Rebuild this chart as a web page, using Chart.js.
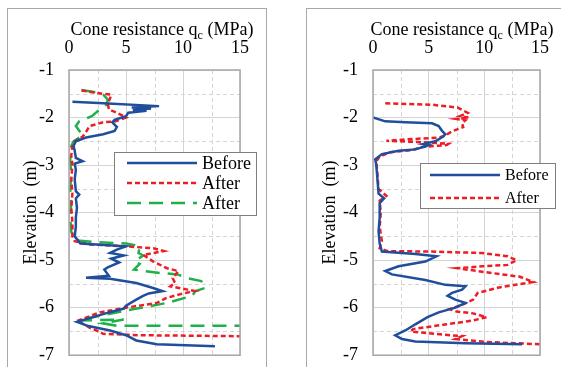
<!DOCTYPE html>
<html>
<head>
<meta charset="utf-8">
<script src="https://cdn.jsdelivr.net/npm/chart.js@4.4.1/dist/chart.umd.min.js"></script>
<style>
  html, body { margin: 0; padding: 0; background: #fff; overflow: hidden; }
  body { width: 561px; height: 367px; position: relative; }
  .panel { position: absolute; top: 8px; border: 1px solid #a8a8a8; background: #fff; }
  #p1 { left: 7px; width: 258px; height: 372px; }
  #p2 { left: 306px; width: 270px; height: 372px; }
  canvas { display: block; }
</style>
</head>
<body>
<div class="panel" id="p1"><canvas id="left" width="258" height="372"></canvas></div>
<div class="panel" id="p2"><canvas id="right" width="260" height="372"></canvas></div>
<script>
// axis ticks
const qcTicks = [0, 5, 10, 15];
const elevTicks = [-7, -6, -5, -4, -3, -2, -1];

// left panel: elevation (m) / cone resistance (MPa)
const leftBeforeElev = [-1.67, -1.70, -1.76, -1.79, -1.81, -1.84, -1.86, -1.90, -1.97, -2.05, -2.10, -2.20, -2.28, -2.35, -2.42, -2.50, -2.60, -2.70, -2.85, -2.92, -2.97, -3.10, -3.30, -3.55, -3.62, -3.70, -3.90, -4.10, -4.30, -4.50, -4.65, -4.71, -4.78, -4.85, -4.90, -4.97, -5.05, -5.15, -5.20, -5.33, -5.37, -5.39, -5.48, -5.58, -5.65, -5.70, -5.75, -5.83, -5.96, -6.02, -6.10, -6.20, -6.30, -6.35, -6.38, -6.48, -6.58, -6.69, -6.77, -6.81];
const leftBeforeQc = [0.3, 3.0, 7.9, 5.5, 7.2, 5.6, 6.8, 5.2, 5.0, 4.0, 3.8, 4.2, 4.0, 3.0, 1.5, 0.6, 0.4, 0.5, 0.6, 1.2, 0.5, 0.6, 0.5, 0.6, 0.9, 0.6, 0.7, 0.6, 0.6, 0.5, 1.0, 5.0, 4.2, 3.6, 4.8, 3.7, 4.4, 3.4, 3.1, 3.5, 1.5, 3.6, 5.9, 7.3, 8.2, 7.0, 6.5, 5.9, 5.0, 4.8, 3.5, 2.1, 0.7, 1.3, 1.6, 3.6, 5.0, 5.9, 7.7, 12.8];

const leftAfterElev = [-1.43, -1.50, -1.52, -1.60, -1.70, -1.83, -1.90, -2.00, -2.08, -2.10, -2.18, -2.30, -2.40, -2.50, -2.60, -2.80, -3.00, -3.30, -3.60, -3.90, -4.20, -4.50, -4.60, -4.67, -4.71, -4.75, -4.81, -4.89, -5.03, -5.17, -5.23, -5.38, -5.48, -5.55, -5.62, -5.65, -5.72, -5.80, -5.90, -6.00, -6.10, -6.28, -6.36, -6.42, -6.48, -6.55, -6.58, -6.60];
const leftAfterQc = [1.1, 2.9, 3.7, 3.6, 3.4, 3.5, 4.2, 5.0, 4.1, 3.0, 1.8, 1.5, 1.2, 0.5, 0.3, 0.2, 0.3, 0.2, 0.3, 0.2, 0.3, 0.3, 0.5, 1.8, 5.0, 7.4, 8.3, 6.5, 7.4, 8.6, 9.6, 9.1, 9.3, 8.9, 10.4, 11.0, 9.7, 8.5, 7.7, 5.0, 2.7, 0.7, 1.4, 1.8, 2.4, 3.0, 6.2, 15];

const leftAfter2Elev = [-1.42, -1.47, -1.52, -1.62, -1.73, -1.83, -1.97, -2.08, -2.18, -2.28, -2.38, -2.50, -2.60, -2.90, -3.20, -3.50, -3.80, -4.10, -4.40, -4.58, -4.62, -4.65, -4.70, -4.85, -4.90, -5.03, -5.08, -5.20, -5.27, -5.30, -5.38, -5.44, -5.58, -5.65, -5.75, -5.90, -6.03, -6.17, -6.27, -6.25, -6.33, -6.38, -6.38];
const leftAfter2Qc = [1.1, 2.4, 3.0, 3.4, 3.3, 2.7, 2.0, 0.9, 0.6, 0.9, 1.2, 0.4, 0.2, 0.1, 0.2, 0.1, 0.2, 0.1, 0.2, 0.5, 2.4, 5.0, 6.2, 6.1, 6.5, 5.8, 6.2, 5.7, 8.0, 9.5, 10.4, 11.6, 12.0, 11.1, 10.8, 8.6, 5.7, 2.7, 0.8, 4.8, 3.0, 4.2, 15];

// right panel
const rightBeforeElev = [-2.00, -2.08, -2.10, -2.12, -2.18, -2.28, -2.35, -2.40, -2.50, -2.56, -2.58, -2.60, -2.67, -2.70, -2.77, -2.88, -3.00, -3.30, -3.60, -3.70, -3.80, -4.10, -4.40, -4.65, -4.82, -4.87, -4.92, -5.03, -5.13, -5.23, -5.30, -5.42, -5.52, -5.55, -5.62, -5.69, -5.75, -5.83, -5.90, -6.00, -6.10, -6.20, -6.35, -6.48, -6.58, -6.66, -6.71, -6.75, -6.77];
const rightBeforeQc = [0, 1.1, 2.9, 5.3, 5.9, 6.2, 6.5, 6.3, 5.6, 4.5, 5.0, 4.8, 3.8, 2.3, 0.8, 0.2, 0.3, 0.4, 0.5, 1.0, 0.6, 0.6, 0.5, 0.6, 0.8, 3.8, 5.7, 4.7, 2.3, 1.1, 1.7, 4.7, 6.5, 8.3, 8.0, 7.1, 6.7, 7.4, 8.3, 7.4, 5.9, 4.9, 3.8, 2.9, 2.0, 2.6, 3.8, 8.3, 13.4];

const rightAfterElev = [-1.70, -1.73, -1.79, -1.90, -1.97, -2.00, -2.03, -2.06, -2.12, -2.20, -2.28, -2.36, -2.42, -2.46, -2.49, -2.52, -2.55, -2.58, -2.62, -2.68, -2.73, -2.82, -2.92, -3.20, -3.50, -3.65, -3.75, -4.00, -4.30, -4.60, -4.75, -4.81, -4.82, -4.85, -4.92, -5.00, -5.10, -5.13, -5.17, -5.25, -5.35, -5.46, -5.52, -5.58, -5.69, -5.83, -5.93, -6.03, -6.08, -6.12, -6.20, -6.27, -6.35, -6.45, -6.50, -6.56, -6.60, -6.66, -6.72, -6.77];
const rightAfterQc = [1.1, 5.3, 7.6, 8.5, 7.8, 8.6, 7.5, 8.3, 8.0, 8.1, 7.2, 6.6, 6.0, 3.0, 1.2, 4.5, 6.8, 6.6, 4.4, 3.6, 1.5, 0.6, 0.3, 0.4, 0.5, 1.2, 0.6, 0.7, 0.6, 0.8, 0.6, 1.3, 5.3, 9.8, 12.1, 12.9, 12.1, 9.8, 7.6, 10.0, 13.2, 14.4, 12.8, 11.2, 9.4, 9.0, 8.1, 6.9, 7.5, 9.0, 10.2, 9.0, 6.6, 3.6, 3.4, 6.0, 8.0, 7.4, 10.0, 15];

const FONT = 'Liberation Serif';
const BLUE = '#1f4e9c', RED = '#ee1c25', GREEN = '#1fb04a';

function pts(elev, qc) {
  return elev.map((e, i) => ({ x: qc[i], y: e }));
}

function series(label, elev, qc, color, dash) {
  return {
    label: label,
    data: pts(elev, qc),
    showLine: true,
    borderColor: color,
    backgroundColor: color,
    borderWidth: 2.5,
    borderDash: dash,
    pointRadius: 0,
    tension: 0
  };
}

// draws minor dashed grid, plot frame, top title with subscript and a boxed legend
const extras = {
  id: 'extras',
  beforeDatasetsDraw(chart) {
    const ctx = chart.ctx, a = chart.chartArea;
    const xs = chart.scales.x, ys = chart.scales.y;
    ctx.save();
    ctx.strokeStyle = '#d4d4d4';
    ctx.lineWidth = 1;
    ctx.setLineDash([4, 3]);
    [2.5, 7.5, 12.5].forEach(v => {
      const px = Math.round(xs.getPixelForValue(v)) + 0.5;
      ctx.beginPath(); ctx.moveTo(px, a.top); ctx.lineTo(px, a.bottom); ctx.stroke();
    });
    [-1.5, -2.5, -3.5, -4.5, -5.5, -6.5].forEach(v => {
      const py = Math.round(ys.getPixelForValue(v)) + 0.5;
      ctx.beginPath(); ctx.moveTo(a.left, py); ctx.lineTo(a.right, py); ctx.stroke();
    });
    ctx.restore();
  },
  afterDraw(chart, args, o) {
    const ctx = chart.ctx, a = chart.chartArea;
    ctx.save();
    ctx.strokeStyle = '#a6a6a6';
    ctx.lineWidth = 1.5;
    ctx.strokeRect(a.left, a.top, a.right - a.left, a.bottom - a.top);

    // title
    ctx.fillStyle = '#000';
    ctx.textBaseline = 'alphabetic';
    ctx.font = '18px "' + FONT + '"';
    const p1 = 'Cone resistance q', p3 = ' (MPa)';
    const w1 = ctx.measureText(p1).width, w3 = ctx.measureText(p3).width;
    ctx.font = '12px "' + FONT + '"';
    const w2 = ctx.measureText('c').width;
    let x = o.titleX - (w1 + w2 + w3) / 2;
    ctx.font = '18px "' + FONT + '"';
    ctx.fillText(p1, x, o.titleY);
    ctx.font = '12px "' + FONT + '"';
    ctx.fillText('c', x + w1, o.titleY + 4);
    ctx.font = '18px "' + FONT + '"';
    ctx.fillText(p3, x + w1 + w2, o.titleY);

    // legend
    const L = o.legend;
    ctx.fillStyle = '#fff';
    ctx.fillRect(L.x, L.y, L.w, L.h);
    ctx.strokeStyle = '#7f7f7f';
    ctx.lineWidth = 1;
    ctx.strokeRect(L.x + 0.5, L.y + 0.5, L.w, L.h);
    ctx.font = L.size + 'px "' + FONT + '"';
    ctx.textBaseline = 'middle';
    chart.data.datasets.forEach((ds, i) => {
      const cy = L.y + L.first + i * L.step;
      ctx.strokeStyle = ds.borderColor;
      ctx.lineWidth = ds.borderWidth;
      ctx.setLineDash(ds.borderDash || []);
      ctx.beginPath(); ctx.moveTo(L.lineX0, cy); ctx.lineTo(L.lineX1, cy); ctx.stroke();
      ctx.setLineDash([]);
      ctx.fillStyle = '#000';
      ctx.fillText(ds.label, L.textX, cy + 1);
    });
    ctx.restore();
  }
};

function makeChart(id, datasets, box) {
  const cv = document.getElementById(id);
  const tickFont = { family: FONT, size: 18 };
  return new Chart(cv, {
    type: 'scatter',
    data: { datasets: datasets },
    options: {
      responsive: false,
      animation: false,
      events: [],
      layout: { padding: { left: 0, top: 0, right: cv.width - box.right, bottom: cv.height - box.bottom } },
      plugins: {
        legend: { display: false },
        tooltip: { enabled: false },
        extras: { titleX: box.titleX, titleY: 26, legend: box.legend }
      },
      scales: {
        x: {
          type: 'linear', position: 'top', min: 0, max: 15,
          afterBuildTicks: s => { s.ticks = qcTicks.map(v => ({ value: v })); },
          ticks: { color: '#000', font: tickFont, padding: 11 },
          grid: { color: '#d4d4d4', drawTicks: false },
          border: { display: false },
          afterFit: s => { s.height = box.top; }
        },
        y: {
          type: 'linear', min: -7, max: -1,
          afterBuildTicks: s => { s.ticks = elevTicks.map(v => ({ value: v })); },
          ticks: { color: '#000', font: tickFont, padding: 15 },
          grid: { color: '#d4d4d4', drawTicks: false },
          border: { display: false },
          title: { display: true, text: 'Elevation  (m)', color: '#000', font: { family: FONT, size: 18 }, padding: { top: 12, bottom: 0 } },
          afterFit: s => { s.width = box.left; }
        }
      }
    },
    plugins: [extras]
  });
}

makeChart('left', [
  series('Before', leftBeforeElev, leftBeforeQc, BLUE, []),
  series('After', leftAfterElev, leftAfterQc, RED, [5, 3]),
  series('After', leftAfter2Elev, leftAfter2Qc, GREEN, [14, 8])
], {
  left: 61, top: 61, right: 232, bottom: 349, titleX: 154,
  legend: { x: 106, y: 143, w: 142, h: 63, first: 11, step: 20, lineX0: 119, lineX1: 189, textX: 194, size: 18 }
});

makeChart('right', [
  series('Before', rightBeforeElev, rightBeforeQc, BLUE, []),
  series('After', rightAfterElev, rightAfterQc, RED, [5, 3])
], {
  left: 66, top: 61, right: 233, bottom: 349, titleX: 155,
  legend: { x: 113, y: 154, w: 135, h: 45, first: 12, step: 23, lineX0: 123, lineX1: 193, textX: 198, size: 16 }
});
</script>
</body>
</html>
